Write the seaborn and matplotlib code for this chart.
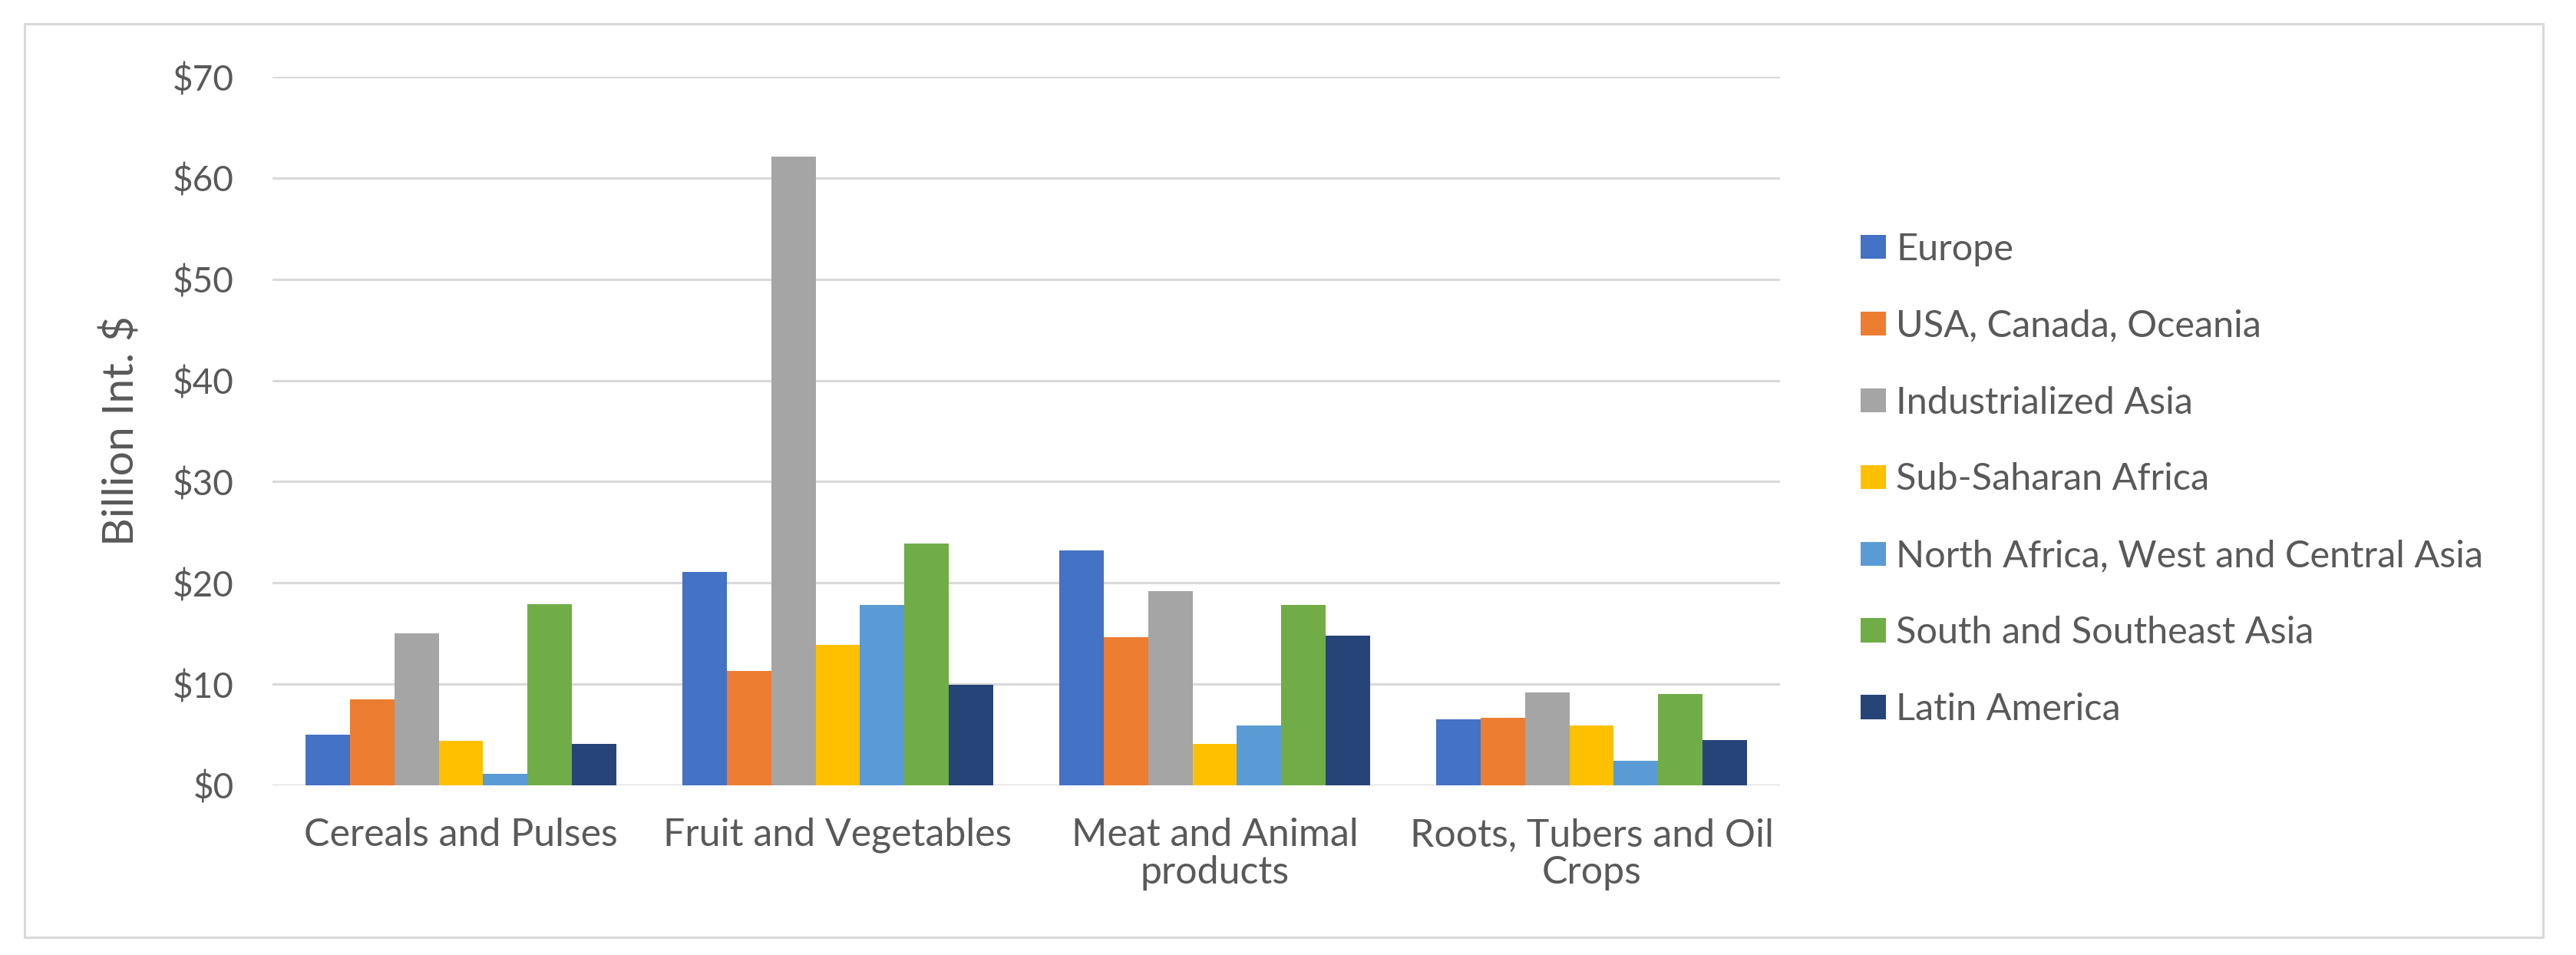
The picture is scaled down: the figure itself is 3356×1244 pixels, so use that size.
import pandas as pd
import matplotlib.pyplot as plt
import seaborn as sns
from matplotlib.patches import Rectangle
from matplotlib.ticker import FuncFormatter

categories = ['Cereals and Pulses', 'Fruit and Vegetables',
              'Meat and Animal\nproducts', 'Roots, Tubers and Oil\nCrops']
regions = ['Europe', 'USA, Canada, Oceania', 'Industrialized Asia',
           'Sub-Saharan Africa', 'North Africa, West and Central Asia',
           'South and Southeast Asia', 'Latin America']

europe = [5.0, 21.1, 23.2, 6.5]
usa_canada_oceania = [8.5, 11.3, 14.6, 6.7]
industrialized_asia = [15.0, 62.1, 19.2, 9.2]
sub_saharan_africa = [4.4, 13.9, 4.1, 5.9]
north_africa_wc_asia = [1.1, 17.8, 5.9, 2.4]
south_se_asia = [17.9, 23.9, 17.8, 9.0]
latin_america = [4.1, 9.9, 14.8, 4.5]

colors = ['#4472C4', '#ED7D31', '#A5A5A5', '#FFC000', '#5B9BD5', '#70AD47', '#264478']

series = [europe, usa_canada_oceania, industrialized_asia, sub_saharan_africa,
          north_africa_wc_asia, south_se_asia, latin_america]
rows = []
for region, vals in zip(regions, series):
    for cat, v in zip(categories, vals):
        rows.append({'Category': cat, 'Region': region, 'Value': v})
df = pd.DataFrame(rows)

sns.set_theme(style='white')
plt.rcParams['font.family'] = ['Lato', 'DejaVu Sans']
text_color = '#595959'
grid_color = '#D9D9D9'

fig = plt.figure(figsize=(33.56, 12.44), dpi=100)
ax = fig.add_axes([355 / 3356, 1 - 1023 / 1244, 1964 / 3356, 923 / 1244])

sns.barplot(data=df, x='Category', y='Value', hue='Region', order=categories,
            hue_order=regions, palette=colors, width=0.825, saturation=1,
            errorbar=None, linewidth=0, ax=ax)

ax.set_ylim(0, 70)
ax.set_yticks(range(0, 71, 10))
ax.yaxis.set_major_formatter(FuncFormatter(lambda v, p: f'${v:.0f}'))
ax.set_axisbelow(True)
ax.yaxis.grid(True, color=grid_color, linewidth=2.2)
ax.xaxis.grid(False)
for s in ax.spines.values():
    s.set_visible(False)
ax.set_xlabel('')
ax.set_ylabel('')
ax.tick_params(axis='y', length=0, pad=36, labelsize=33, labelcolor=text_color)
ax.tick_params(axis='x', length=0, pad=30, labelsize=36, labelcolor=text_color)
for lbl in ax.get_xticklabels():
    lbl.set_linespacing(1.1)

fig.text(158 / 3356, 1 - 561 / 1244, 'Billion Int. $', rotation=90,
         ha='center', va='center', fontsize=41, color=text_color)

sns.move_legend(ax, 'center left', bbox_to_anchor=((2424 - 355) / 1964, (1023 - 624.5) / 923),
                frameon=False, title=None, fontsize=35, labelcolor=text_color,
                handlelength=0.68, handleheight=0.62, handletextpad=0.27,
                labelspacing=1.15, borderpad=0, borderaxespad=0)

# outer chart frame
fig.patches.append(Rectangle((32 / 3356, 1 - 1221 / 1244), (3313 - 32) / 3356, (1221 - 31) / 1244,
                             transform=fig.transFigure, fill=False,
                             edgecolor=grid_color, linewidth=2.2))

fig.savefig('out.png', dpi=100, facecolor='white')
